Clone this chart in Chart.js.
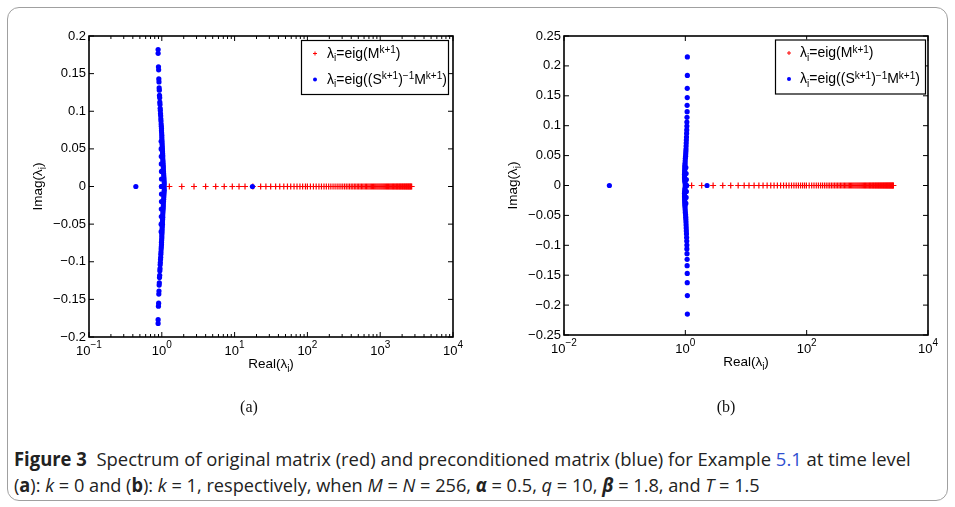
<!DOCTYPE html>
<html>
<head>
<meta charset="utf-8">
<script src="https://cdn.jsdelivr.net/npm/chart.js@4.4.0/dist/chart.umd.min.js"></script>
<style>
  html, body { margin: 0; padding: 0; background: #fff; }
  body { width: 955px; height: 507px; position: relative; overflow: hidden; }
  .frame { position: absolute; left: 7px; top: 7px; width: 941px; height: 494px; border: 1.5px solid #a0a0a0; border-radius: 12px; box-sizing: border-box; }
  canvas { position: absolute; top: 0; }
  #chartA { left: 0; }
  #chartB { left: 477px; }
  .sub { position: absolute; top: 398px; font-family: "Liberation Serif", "Times New Roman", serif; font-size: 16px; color: #111; transform: translateX(-50%); }
  .cap { position: absolute; left: 14px; font-family: "Liberation Sans Narrow", "Open Sans", "Noto Sans", sans-serif; font-size: 19px; color: #222; white-space: nowrap; transform-origin: left top; }
  .cap b { font-weight: bold; }
  .link { color: #3050d0; }
</style>
</head>
<body>
<div class="frame"></div>
<canvas id="chartA" width="477" height="400"></canvas>
<canvas id="chartB" width="478" height="400"></canvas>
<div class="sub" style="left:249px">(a)</div>
<div class="sub" style="left:726px">(b)</div>
<div class="cap" id="cap1" style="top:446px"><b>Figure 3</b>&nbsp; Spectrum of original matrix (red) and preconditioned matrix (blue) for Example <span class="link">5.1</span> at time level</div>
<div class="cap" id="cap2" style="top:472px">(<b>a</b>): <i>k</i> = 0 and (<b>b</b>): <i>k</i> = 1, respectively, when <i>M</i> = <i>N</i> = 256, <b><i>α</i></b> = 0.5, <i>q</i> = 10, <b><i>β</i></b> = 1.8, and <i>T</i> = 1.5</div>

<script>
const SANS = '"Liberation Sans", Arial, Helvetica, sans-serif';

// ---- panel (a): k = 0 ----
const xTicksA = [0.1, 1, 10, 100, 1000, 10000];
const xExpA = ['−1', '0', '1', '2', '3', '4'];
// eig(M^{k+1}) : all real
const redReA = [1.27, 1.88, 2.77, 4.0, 5.5, 7.2, 9.3, 11.5, 13.9, 17.8, 22.8, 26.9, 31.3, 36.6, 41.7, 47.4,
  53.2, 59, 65.5, 72, 79, 86, 94, 100, 110, 121, 132, 144, 156, 169, 182, 196, 210, 225, 240, 256, 272,
  289, 306, 324, 342, 361, 380, 400, 420, 441, 462, 484, 506, 529, 552, 576, 600, 625, 650, 676, 702,
  729, 756, 784, 812, 841, 870, 900, 930, 961, 992, 1024, 1056, 1089, 1122, 1156, 1190, 1225, 1260,
  1296, 1332, 1369, 1406, 1444, 1482, 1521, 1560, 1600, 1640, 1681, 1722, 1764, 1806, 1849, 1892,
  1936, 1980, 2025, 2070, 2116, 2162, 2209, 2256, 2304, 2352, 2401, 2450, 2500, 2550, 2601, 2652, 2704];
// eig((S^{k+1})^{-1} M^{k+1}) : conjugate pairs (upper half listed)
const blueImA = [0.182, 0.177, 0.159, 0.155, 0.143, 0.139, 0.131, 0.128, 0.121, 0.118, 0.112, 0.109,
  0.104, 0.101, 0.097, 0.094, 0.090, 0.087, 0.083, 0.080, 0.077, 0.074, 0.071, 0.068, 0.065, 0.062,
  0.059, 0.056, 0.053, 0.050, 0.047, 0.044, 0.041, 0.038, 0.035, 0.032, 0.029, 0.026, 0.023, 0.020,
  0.017, 0.014, 0.011, 0.008, 0.005, 0.002];
const blueReA = [0.89, 0.89, 0.90, 0.905, 0.91, 0.915, 0.92, 0.925, 0.93, 0.935, 0.94, 0.945, 0.95,
  0.955, 0.96, 0.965, 0.97, 0.975, 0.98, 0.985, 0.99, 0.99, 0.995, 1.0, 1.0, 1.005, 1.01, 1.01, 1.015,
  1.02, 1.02, 1.025, 1.03, 1.03, 1.035, 1.04, 1.045, 1.05, 1.05, 1.055, 1.06, 1.065, 1.07, 1.075,
  1.08, 1.08];
// second, inner column of the cluster near the real axis
const blueInnerImA = [0.06, 0.05, 0.04, 0.03, 0.02, 0.01, 0.0];
const blueInnerReA = [0.98, 0.98, 0.985, 0.985, 0.99, 0.99, 0.99];
const blueLoneA = [0.44, 17.6]; // isolated real eigenvalues

// ---- panel (b): k = 1 ----
const xTicksB = [0.01, 1, 100, 10000];
const xExpB = ['−2', '0', '2', '4'];
const redReB = [1.27, 1.86, 2.87, 4.14, 5.6, 7.43, 9.33, 11.2, 13.6, 16.3, 19.1, 22.3, 25.6, 29, 32.9,
  37.2, 41.6, 46.2, 51.1, 56.3, 61.6, 67.2, 73.1, 79.2, 85.6, 92.2, 99, 110, 121, 132, 144, 156, 169,
  182, 196, 210, 225, 240, 256, 272, 289, 306, 324, 342, 361, 380, 400, 420, 441, 462, 484, 506, 529,
  552, 576, 600, 625, 650, 676, 702, 729, 756, 784, 812, 841, 870, 900, 930, 961, 992, 1024, 1056,
  1089, 1122, 1156, 1190, 1225, 1260, 1296, 1332, 1369, 1406, 1444, 1482, 1521, 1560, 1600, 1640,
  1681, 1722, 1764, 1806, 1849, 1892, 1936, 1980, 2025, 2070, 2116, 2162, 2209, 2256, 2304, 2352,
  2401, 2450, 2500, 2550, 2601, 2650, 2690];
const blueImB = [0.215, 0.184, 0.1625, 0.147, 0.134, 0.1235, 0.114, 0.106, 0.0995, 0.093, 0.087, 0.081,
  0.076, 0.071, 0.066, 0.061, 0.057, 0.053, 0.049, 0.045, 0.041, 0.037, 0.034, 0.031, 0.028, 0.025,
  0.022, 0.019, 0.016, 0.013, 0.010, 0.007, 0.004, 0.001];
const blueReB = [1.08, 1.08, 1.075, 1.075, 1.07, 1.07, 1.065, 1.06, 1.06, 1.055, 1.05, 1.045, 1.04,
  1.035, 1.03, 1.025, 1.02, 1.015, 1.01, 1.0, 0.995, 0.99, 0.985, 0.98, 0.98, 0.975, 0.975, 0.97,
  0.97, 0.97, 0.975, 0.98, 0.99, 1.0];
const blueInnerImB = [0.03, 0.02, 0.01, 0.0];
const blueInnerReB = [1.02, 1.03, 1.04, 1.05];
const blueLoneB = [0.056, 2.28];

// legend text, split in pieces for sub/superscripts
const legendLines = [
  [{t: 'λ'}, {t: 'i', s: 'sub'}, {t: '=eig(M'}, {t: 'k+1', s: 'sup'}, {t: ')'}],
  [{t: 'λ'}, {t: 'i', s: 'sub'}, {t: '=eig((S'}, {t: 'k+1', s: 'sup'}, {t: ')'}, {t: '−1', s: 'sup'},
   {t: 'M'}, {t: 'k+1', s: 'sup'}, {t: ')'}]
];
const xTitle = [{t: 'Real(λ'}, {t: 'i', s: 'sub'}, {t: ')'}];
const yTitle = [{t: 'Imag(λ'}, {t: 'i', s: 'sub'}, {t: ')'}];

function redPoints(re) {
  return re.map(v => ({x: v, y: 0}));
}
function bluePoints(re, im, innerRe, innerIm, lone) {
  const pts = [];
  im.forEach((v, i) => {
    pts.push({x: re[i], y: v});
    pts.push({x: re[i], y: -v});
  });
  innerIm.forEach((v, i) => {
    pts.push({x: innerRe[i], y: v});
    pts.push({x: innerRe[i], y: -v});
  });
  lone.forEach(v => pts.push({x: v, y: 0}));
  return pts;
}

function fontFor(p, size) {
  return (p.s ? size.small : size.main) + 'px ' + SANS;
}
function richWidth(ctx, parts, size) {
  let w = 0;
  parts.forEach(p => { ctx.font = fontFor(p, size); w += ctx.measureText(p.t).width; });
  return w;
}
function drawRich(ctx, parts, x, y, size) {
  parts.forEach(p => {
    ctx.font = fontFor(p, size);
    const dy = p.s === 'sup' ? -size.up : p.s === 'sub' ? size.down : 0;
    ctx.fillText(p.t, x, y + dy);
    x += ctx.measureText(p.t).width;
  });
}

const matlabAxes = {
  id: 'matlabAxes',
  afterDraw(chart, args, o) {
    const {ctx, chartArea: a, scales: {x, y}} = chart;
    ctx.save();
    ctx.strokeStyle = '#000';
    ctx.fillStyle = '#000';
    ctx.lineWidth = 1;
    const seg = (x1, y1, x2, y2) => { ctx.beginPath(); ctx.moveTo(x1, y1); ctx.lineTo(x2, y2); ctx.stroke(); };

    // inward ticks on all four sides
    o.xTicks.forEach(v => {
      const px = x.getPixelForValue(v);
      seg(px, a.bottom, px, a.bottom - 5);
      seg(px, a.top, px, a.top + 5);
    });
    if (o.minor) {
      o.xTicks.slice(0, -1).forEach(d => {
        for (let m = 2; m <= 9; m++) {
          const px = x.getPixelForValue(m * d);
          seg(px, a.bottom, px, a.bottom - 3);
          seg(px, a.top, px, a.top + 3);
        }
      });
    }
    y.ticks.forEach(t => {
      const py = y.getPixelForValue(t.value);
      seg(a.left, py, a.left + 5, py);
      seg(a.right, py, a.right - 5, py);
    });
    ctx.lineWidth = 1.6;
    ctx.strokeRect(a.left, a.top, a.right - a.left, a.bottom - a.top);

    // x tick labels 10^k
    ctx.textBaseline = 'alphabetic';
    ctx.textAlign = 'left';
    o.xTicks.forEach((v, i) => {
      const px = x.getPixelForValue(v);
      ctx.font = '13px ' + SANS;
      const w1 = ctx.measureText('10').width;
      ctx.font = '10px ' + SANS;
      const w2 = ctx.measureText(o.xExp[i]).width;
      const x0 = px - (w1 + w2) / 2;
      ctx.font = '13px ' + SANS;
      ctx.fillText('10', x0, a.bottom + 18);
      ctx.font = '10px ' + SANS;
      ctx.fillText(o.xExp[i], x0 + w1, a.bottom + 11);
    });

    // axis titles
    const tsize = {main: 13.5, small: 10, up: 5, down: 4};
    const cx = (a.left + a.right) / 2;
    drawRich(ctx, xTitle, cx - richWidth(ctx, xTitle, tsize) / 2, a.bottom + 30.5, tsize);
    ctx.save();
    ctx.translate(a.left - 47, (a.top + a.bottom) / 2);
    ctx.rotate(-Math.PI / 2);
    drawRich(ctx, yTitle, -richWidth(ctx, yTitle, tsize) / 2, 0, tsize);
    ctx.restore();

    // legend box
    const L = o.legend;
    const lx = a.right - L.right - L.width, ly = a.top + L.top;
    ctx.fillStyle = '#fff';
    ctx.fillRect(lx, ly, L.width, 54);
    ctx.lineWidth = 1.2;
    ctx.strokeRect(lx + 0.5, ly + 0.5, L.width, 54);
    const lsize = {main: 14, small: 10, up: 4.5, down: 3.5};
    // red cross marker
    ctx.lineWidth = 1;
    ctx.strokeStyle = '#ff0000';
    seg(lx + 14 - 2, ly + 13.5, lx + 14 + 2, ly + 13.5);
    seg(lx + 14, ly + 11.5, lx + 14, ly + 15.5);
    // blue dot marker
    ctx.fillStyle = '#0000ff';
    ctx.beginPath(); ctx.arc(lx + 14, ly + 39.5, 2, 0, Math.PI * 2); ctx.fill();
    ctx.fillStyle = '#000';
    drawRich(ctx, legendLines[0], lx + L.text, ly + 17.5, lsize);
    drawRich(ctx, legendLines[1], lx + L.text, ly + 43.5, lsize);
    ctx.restore();
  }
};

function makeChart(id, p) {
  return new Chart(document.getElementById(id), {
    type: 'scatter',
    data: {
      datasets: [
        {
          label: 'eig(M)',
          data: redPoints(p.red),
          pointStyle: 'cross',
          pointRadius: 3,
          borderColor: '#ff0000',
          backgroundColor: '#ff0000',
          borderWidth: 1.2,
          order: 1
        },
        {
          label: 'eig(S^-1 M)',
          data: bluePoints(p.blueRe, p.blueIm, p.innerRe, p.innerIm, p.blueLone),
          pointStyle: 'circle',
          pointRadius: 2.6,
          borderWidth: 0,
          backgroundColor: '#0000ff',
          order: 0
        }
      ]
    },
    options: {
      responsive: false,
      animation: false,
      devicePixelRatio: 1,
      layout: { padding: { top: 36, right: p.padRight, left: 0, bottom: 0 } },
      plugins: {
        legend: { display: false },
        tooltip: { enabled: false },
        matlabAxes: { xTicks: p.xTicks, xExp: p.xExp, minor: p.minor, legend: p.legend }
      },
      scales: {
        x: {
          type: 'logarithmic',
          min: p.xTicks[0],
          max: p.xTicks[p.xTicks.length - 1],
          grid: { display: false, drawTicks: false },
          border: { display: false },
          ticks: { display: false },
          afterFit: s => { s.height = p.axisH; }
        },
        y: {
          type: 'linear',
          min: p.yMin,
          max: p.yMax,
          grid: { display: false, drawTicks: false },
          border: { display: false },
          ticks: {
            stepSize: 0.05,
            autoSkip: false,
            maxTicksLimit: 30,
            padding: 3,
            color: '#000',
            font: { family: SANS, size: 13 },
            callback: v => parseFloat(Number(v).toFixed(2)).toString().replace('-', '−')
          },
          afterFit: s => { s.width = p.axisW; }
        }
      }
    },
    plugins: [matlabAxes]
  });
}

makeChart('chartA', {
  red: redReA, blueRe: blueReA, blueIm: blueImA, innerRe: blueInnerReA, innerIm: blueInnerImA,
  blueLone: blueLoneA,
  xTicks: xTicksA, xExp: xExpA, minor: true,
  yMin: -0.2, yMax: 0.2,
  axisW: 89, axisH: 63, padRight: 24,
  legend: { right: 5, width: 147, top: 4, text: 26 }
});

makeChart('chartB', {
  red: redReB, blueRe: blueReB, blueIm: blueImB, innerRe: blueInnerReB, innerIm: blueInnerImB,
  blueLone: blueLoneB,
  xTicks: xTicksB, xExp: xExpB, minor: false,
  yMin: -0.25, yMax: 0.25,
  axisW: 87, axisH: 65, padRight: 27,
  legend: { right: 3, width: 150, top: 3.5, text: 25 }
});

// fit caption lines to the width of the printed caption
[['cap1', 897], ['cap2', 746]].forEach(([id, w]) => {
  const el = document.getElementById(id);
  el.style.transform = 'scaleX(' + (w / el.offsetWidth) + ')';
});
</script>
</body>
</html>
